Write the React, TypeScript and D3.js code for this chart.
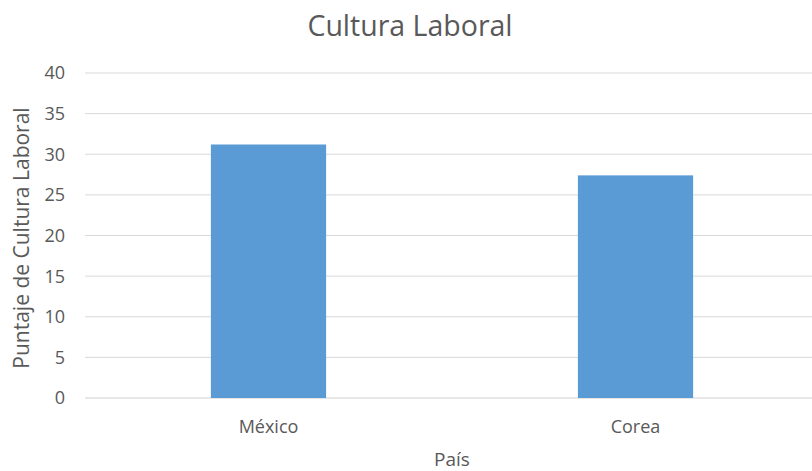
import React from "react";
import * as d3 from "d3";

const categories = ["México", "Corea"];
const values = [31.2, 27.4];
const yTicks = [0, 5, 10, 15, 20, 25, 30, 35, 40];
const title = "Cultura Laboral";
const xTitle = "País";
const yTitle = "Puntaje de Cultura Laboral";

export default function App() {
  const W = 812, H = 471;
  const left = 85, right = 819, top = 73, bottom = 398;
  const x = d3.scaleBand<string>().domain(categories).range([left, right]).paddingInner(0.686).paddingOuter(0.343);
  const y = d3.scaleLinear().domain([0, 40]).range([bottom, top]);
  const font = "Open Sans, Noto Sans, sans-serif";
  return (
    <svg width={W} height={H} style={{ position: "absolute", left: 0, top: 0, background: "#fff" }} fontFamily={font}>
      <rect x={0} y={0} width={W} height={H} fill="#fff" />
      <text x={410} y={36} textAnchor="middle" fontSize={28.5} fill="#595959">{title}</text>
      {yTicks.map((t) => (
        <g key={t}>
          <line x1={left} x2={W} y1={y(t)} y2={y(t)} stroke={t === 0 ? "#d0d0d0" : "#d9d9d9"} strokeWidth={1} />
          <text x={65} y={y(t)} dy="0.36em" textAnchor="end" fontSize={18} fill="#595959">{t}</text>
        </g>
      ))}
      {categories.map((c, i) => (
        <g key={c}>
          <rect x={x(c)} y={y(values[i])} width={x.bandwidth()} height={bottom - y(values[i])} fill="#5B9BD5" />
          <text x={(x(c) as number) + x.bandwidth() / 2} y={433} textAnchor="middle" fontSize={18} fill="#595959">{c}</text>
        </g>
      ))}
      <text x={452} y={466} textAnchor="middle" fontSize={19} fill="#595959">{xTitle}</text>
      <text transform={`translate(29,${238}) rotate(-90)`} textAnchor="middle" fontSize={21} fill="#595959">{yTitle}</text>
    </svg>
  );
}
